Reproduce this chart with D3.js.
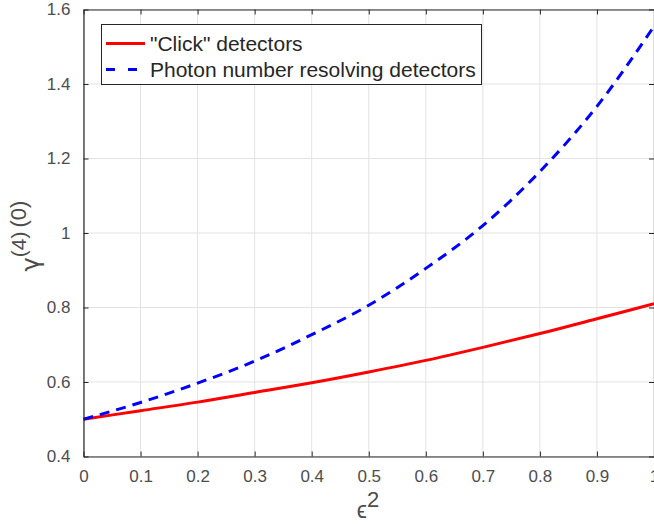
<!DOCTYPE html>
<html>
<head>
<meta charset="utf-8">
<script src="https://cdn.jsdelivr.net/npm/d3@7"></script>
<style>
  body { margin: 0; background: #fff; }
  text { font-family: "Liberation Sans", Arial, Helvetica, sans-serif; }
</style>
</head>
<body>
<svg id="mainsvg" width="654" height="524"></svg>
<script>
// values
const eps2 = [0, 0.1, 0.2, 0.3, 0.4, 0.5, 0.6, 0.7, 0.8, 0.9, 1.0]
const clickVals = [0.5, 0.523, 0.546, 0.572, 0.598, 0.627, 0.658, 0.693, 0.730, 0.770, 0.810]
const pnrVals = [0.5, 0.545, 0.597, 0.656, 0.727, 0.806, 0.905, 1.020, 1.165, 1.340, 1.555]
const xTicks = [0, 0.1, 0.2, 0.3, 0.4, 0.5, 0.6, 0.7, 0.8, 0.9, 1]
const yTicks = [0.4, 0.6, 0.8, 1, 1.2, 1.4, 1.6]
const seriesNames = ['"Click" detectors', 'Photon number resolving detectors']

const plotL = 83.5, plotR = 654, plotT = 9.5, plotB = 456.5
const axisColor = '#262626'
const tickColor = '#4d4d4d'

const svg = d3.select('#mainsvg')
const x = d3.scaleLinear().domain([0, 1]).range([plotL, plotR])
const y = d3.scaleLinear().domain([0.4, 1.6]).range([plotB, plotT])

// grid
const grid = svg.append('g')
grid.selectAll('.gx').data(xTicks).enter().append('line')
  .attr('x1', d => x(d)).attr('x2', d => x(d))
  .attr('y1', plotT).attr('y2', plotB)
  .attr('stroke', '#e3e3e3').attr('stroke-width', 1)
grid.selectAll('.gy').data(yTicks).enter().append('line')
  .attr('x1', plotL).attr('x2', plotR)
  .attr('y1', d => y(d)).attr('y2', d => y(d))
  .attr('stroke', '#e3e3e3').attr('stroke-width', 1)

// curves
const line = d3.line()
  .x((d, i) => x(eps2[i]))
  .y(d => y(d))
  .curve(d3.curveMonotoneX)

svg.append('path')
  .attr('d', line(clickVals))
  .attr('fill', 'none')
  .attr('stroke', '#ff0000')
  .attr('stroke-width', 3)

svg.append('path')
  .attr('d', line(pnrVals))
  .attr('fill', 'none')
  .attr('stroke', '#0000ff')
  .attr('stroke-width', 3)
  .attr('stroke-dasharray', '10,7')

// axes (ticks pointing in, box on all sides)
const fmt = d => d3.format('')(+d.toFixed(1))
const xAxis = svg.append('g').attr('transform', `translate(0,${plotB})`)
  .call(d3.axisBottom(x).tickValues(xTicks).tickSizeInner(-5).tickSizeOuter(0).tickPadding(13).tickFormat(fmt))
const yAxis = svg.append('g').attr('transform', `translate(${plotL},0)`)
  .call(d3.axisLeft(y).tickValues(yTicks).tickSizeInner(-5).tickSizeOuter(0).tickPadding(13).tickFormat(fmt))
const xTop = svg.append('g').attr('transform', `translate(0,${plotT})`)
  .call(d3.axisTop(x).tickValues(xTicks).tickSizeInner(-5).tickSizeOuter(0).tickFormat(''))
const yRight = svg.append('g').attr('transform', `translate(${plotR},0)`)
  .call(d3.axisRight(y).tickValues(yTicks).tickSizeInner(-5).tickSizeOuter(0).tickFormat(''))

;[xAxis, yAxis, xTop, yRight].forEach(a => {
  a.select('.domain').attr('stroke', axisColor).attr('stroke-width', 1.2)
  a.selectAll('.tick line').attr('stroke', axisColor).attr('stroke-width', 1)
  a.selectAll('.tick text').attr('fill', tickColor)
    .style('font-size', '17px')
    .style('font-family', '"Liberation Sans", Arial, sans-serif')
})

// axis labels
svg.append('text')
  .attr('x', 368).attr('y', 518)
  .attr('text-anchor', 'middle')
  .attr('fill', tickColor)
  .style('font-size', '23px')
  .html('ϵ<tspan dy="-11" style="font-size:22px">2</tspan>')

svg.append('text')
  .attr('transform', 'translate(39,236) rotate(-90)')
  .attr('text-anchor', 'middle')
  .attr('fill', tickColor)
  .style('font-size', '24px')
  .html('<tspan style="font-family:\'DejaVu Sans\'">γ</tspan><tspan dy="-13" style="font-size:21px">(4)</tspan><tspan dx="4" style="font-size:22px">(0)</tspan>')

// legend
const lg = svg.append('g')
lg.append('rect')
  .attr('x', 101.5).attr('y', 24.5)
  .attr('width', 380).attr('height', 60)
  .attr('fill', '#fff')
  .attr('stroke', '#262626').attr('stroke-width', 1)

const legendItems = [
  {name: seriesNames[0], color: '#ff0000', dash: null},
  {name: seriesNames[1], color: '#0000ff', dash: '9,13'}
]
legendItems.forEach((it, i) => {
  const ly = 43.5 + i * 26
  lg.append('line')
    .attr('x1', 106).attr('x2', 145)
    .attr('y1', ly).attr('y2', ly)
    .attr('stroke', it.color).attr('stroke-width', 3)
    .attr('stroke-dasharray', it.dash)
  lg.append('text')
    .attr('x', 150).attr('y', ly + 7)
    .attr('fill', axisColor)
    .style('font-size', '21px')
    .text(it.name)
})
</script>
</body>
</html>
